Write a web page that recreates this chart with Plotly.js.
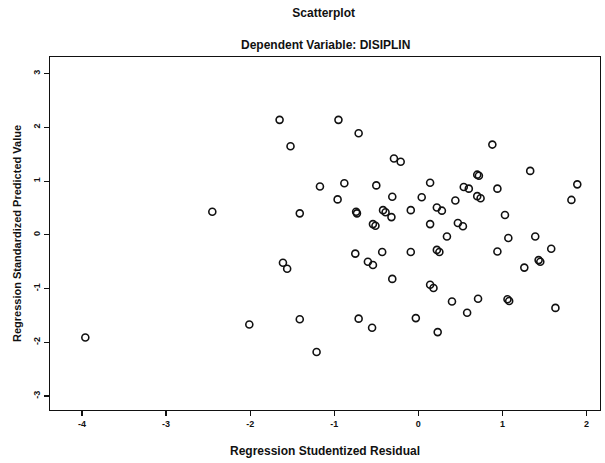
<!DOCTYPE html>
<html>
<head>
<meta charset="utf-8">
<script src="https://cdn.plot.ly/plotly-3.0.1.min.js"></script>
<style>html,body{margin:0;padding:0;background:#fff;}#chart{width:605px;height:463px;}</style>
</head>
<body>
<div id="chart"></div>
<script>
const residual = [-3.96, -2.45, -2.01, -1.65, -1.52, -1.41, -1.41, -1.61, -1.56, -1.21,
  -1.17, -0.96, -0.95, -0.88, -0.75, -0.74, -0.73, -0.71, -0.71, -0.60,
  -0.55, -0.54, -0.51, -0.50, -0.43, -0.42, -0.39, -0.32, -0.31, -0.31,
  -0.29, -0.21, -0.09, -0.09, -0.03, 0.04, 0.14, 0.14, 0.14, 0.18,
  0.22, 0.22, 0.23, 0.25, 0.28, 0.34, 0.40, 0.44, 0.47, 0.53,
  0.54, 0.58, 0.60, 0.70, 0.70, 0.71, 0.72, 0.74, 0.88, 0.94,
  0.94, 1.03, 1.06, 1.07, 1.08, 1.26, 1.33, 1.39, 1.43, 1.45,
  1.58, 1.63, 1.82, 1.89, -0.54];
const predicted = [-1.91, 0.43, -1.67, 2.14, 1.65, 0.40, -1.57, -0.52, -0.63, -2.18,
  0.90, 0.66, 2.14, 0.96, -0.35, 0.43, 0.40, 1.89, -1.56, -0.50,
  -1.73, 0.20, 0.17, 0.92, -0.32, 0.46, 0.42, 0.33, 0.71, -0.82,
  1.42, 1.36, 0.46, -0.32, -1.55, 0.70, 0.97, 0.20, -0.93, -0.99,
  0.51, -0.28, -1.81, -0.32, 0.45, -0.03, -1.24, 0.64, 0.22, 0.16,
  0.89, -1.45, 0.86, 1.12, 0.72, -1.19, 1.10, 0.68, 1.68, 0.86,
  -0.31, 0.37, -1.20, -0.06, -1.23, -0.61, 1.19, -0.03, -0.47, -0.50,
  -0.26, -1.36, 0.65, 0.94, -0.56];
const xTicks = [-4, -3, -2, -1, 0, 1, 2];
const yTicks = [-3, -2, -1, 0, 1, 2, 3];

const font = {family: 'Liberation Sans, Arial, sans-serif', color: '#111'};

Plotly.newPlot('chart', [{
  x: residual, y: predicted, type: 'scatter', mode: 'markers',
  marker: {symbol: 'circle-open', size: 7, color: '#111', line: {width: 1.6, color: '#111'}},
  hoverinfo: 'skip'
}], {
  width: 605, height: 463,
  margin: {l: 50, r: 5, t: 57, b: 53},
  paper_bgcolor: '#fff', plot_bgcolor: '#fff',
  showlegend: false,
  title: {text: '<b>Scatterplot</b>', x: 0.535, xanchor: 'center', y: 0.972, yanchor: 'middle', yref: 'container',
          font: Object.assign({size: 12}, font)},
  annotations: [{text: '<b>Dependent Variable: DISIPLIN</b>', xref: 'paper', yref: 'paper', x: 0.5, y: 1,
                 xanchor: 'center', yanchor: 'bottom', yshift: 3, showarrow: false,
                 font: Object.assign({size: 12}, font)}],
  xaxis: {
    range: [-4.38, 2.16], tickvals: xTicks, ticktext: xTicks.map(String),
    showgrid: false, zeroline: false, showline: true, mirror: true, linecolor: '#111', linewidth: 1.3,
    ticks: 'outside', ticklen: 5, tickwidth: 1.2, tickcolor: '#111',
    tickfont: Object.assign({size: 9, weight: 'bold'}, font),
    title: {text: '<b>Regression Studentized Residual</b>', font: Object.assign({size: 12}, font), standoff: 18}
  },
  yaxis: {
    range: [-3.26, 3.31], tickvals: yTicks, ticktext: yTicks.map(String), tickangle: -90,
    showgrid: false, zeroline: false, showline: true, mirror: true, linecolor: '#111', linewidth: 1.3,
    ticks: 'outside', ticklen: 5, tickwidth: 1.2, tickcolor: '#111',
    tickfont: Object.assign({size: 9, weight: 'bold'}, font),
    title: {text: '<b>Regression Standardized Predicted Value</b>', font: Object.assign({size: 11}, font), standoff: 8}
  }
}, {staticPlot: true});
</script>
</body>
</html>
